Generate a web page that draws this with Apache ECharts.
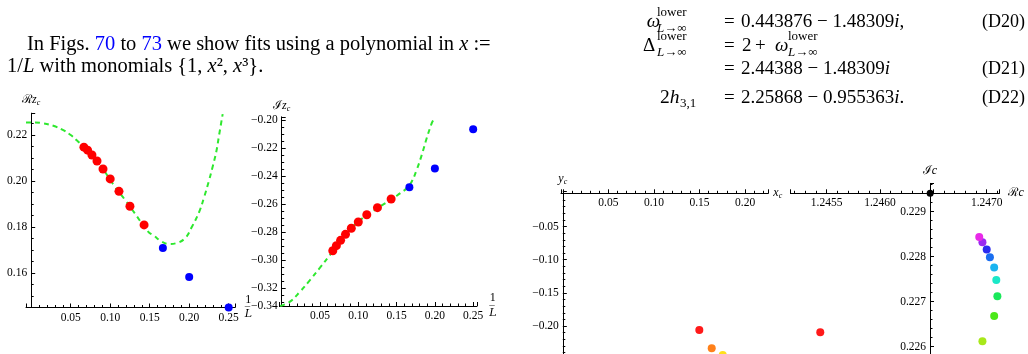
<!DOCTYPE html>
<html>
<head>
<meta charset="utf-8">
<script src="https://cdn.jsdelivr.net/npm/echarts@6/dist/echarts.min.js"></script>
<style>
  html, body { margin: 0; padding: 0; background: #fff; }
  #chart { width: 1028px; height: 354px; }
</style>
</head>
<body>
<div id="chart"></div>
<script>
// x = 1/L, red: L = 15..7 (fit), blue: L = 6, 5, 4
const xRed = [0.0667, 0.0714, 0.0769, 0.0833, 0.0909, 0.1, 0.1111, 0.125, 0.1429];
const xBlue = [0.1667, 0.2, 0.25];

// Re z_c and Im z_c
const reRed = [0.2147, 0.2134, 0.2113, 0.2087, 0.2052, 0.2009, 0.1955, 0.1890, 0.1809];
const reBlue = [0.1709, 0.1583, 0.1450];
const imRed = [-0.2932, -0.2896, -0.2858, -0.2815, -0.2772, -0.2727, -0.2675, -0.2625, -0.2563];
const imBlue = [-0.2480, -0.2345, -0.2066];

// dashed fit curves
const reFitX = [-0.0066, 0.005, 0.015, 0.028, 0.040, 0.050, 0.058, 0.066, 0.077, 0.087, 0.096, 0.106, 0.119, 0.131, 0.148, 0.155, 0.165, 0.174, 0.184, 0.195, 0.2035, 0.2128, 0.2191, 0.2247, 0.2297, 0.2343, 0.2377, 0.2424];
const reFitY = [0.2254, 0.2254, 0.2251, 0.2240, 0.2222, 0.2200, 0.2176, 0.2150, 0.2113, 0.2072, 0.2026, 0.1975, 0.1917, 0.1860, 0.1780, 0.1763, 0.1737, 0.1726, 0.1730, 0.1752, 0.1801, 0.1867, 0.1932, 0.1997, 0.2062, 0.2127, 0.2196, 0.2291];
const imFitX = [-0.002, 0.0108, 0.0239, 0.0369, 0.050, 0.0631, 0.0714, 0.0833, 0.0955, 0.1066, 0.1196, 0.1349, 0.1444, 0.1544, 0.1632, 0.1697, 0.1762, 0.1828, 0.1893, 0.1958, 0.1979];
const imFitY = [-0.3326, -0.3295, -0.3224, -0.3141, -0.3053, -0.2962, -0.2905, -0.2820, -0.2745, -0.2696, -0.2649, -0.2594, -0.2563, -0.2523, -0.2487, -0.2440, -0.2356, -0.2250, -0.2130, -0.2024, -0.2000];

// (x_c, y_c) plane, visible points
const xcVals = [0.1498, 0.1634, 0.1755];
const ycVals = [-0.2059, -0.2334, -0.2435];

// complex c plane
const reC = [1.24544, 1.24696, 1.24707, 1.24710, 1.24709, 1.24707, 1.24703, 1.24700, 1.24696, 1.24693];
const imC = [0.22632, 0.22612, 0.22668, 0.22712, 0.22748, 0.22776, 0.22799, 0.22816, 0.22832, 0.22844];
const cExact = [1.24647, 0.22941];

const xyPalette = ['#ff1a1a', '#ff801a', '#ffe01a'];
const cPalette = ['#ff1a1a', '#a8e81a', '#4ce81a', '#1ae85a', '#1ae8c8', '#1ab4f0', '#1a6ef0', '#2a2af0', '#9a2af0', '#e82ae8'];

const serif = '"Liberation Serif","DejaVu Serif",serif';
const imMin = -0.3326;

const pairs = (xs, ys) => xs.map((x, i) => [x, ys[i]]);
const fmt = (dec, hide) => v => {
  if ((hide || []).some(h => Math.abs(v - h) < 1e-9)) return '';
  return (v < 0 ? '\u2212' : '') + Math.abs(v).toFixed(dec);
};

function axis(extra) {
  const base = {
    type: 'value',
    scale: true,
    axisLine: { onZero: false, lineStyle: { color: '#000', width: 1 } },
    axisTick: { inside: true, length: 4, lineStyle: { color: '#000' } },
    minorTick: { show: true, splitNumber: 5, length: 2.5, lineStyle: { color: '#000' } },
    splitLine: { show: false },
    axisLabel: { color: '#000', fontFamily: serif, fontSize: 11.5, margin: 4, showMinLabel: false, showMaxLabel: false },
    nameTextStyle: {
      color: '#000', fontFamily: serif, fontSize: 12,
      rich: {
        s: { fontFamily: serif, fontSize: 12, lineHeight: 14 },
        v: { fontFamily: serif, fontStyle: 'italic', fontSize: 12, lineHeight: 14 },
        c: { fontFamily: serif, fontStyle: 'italic', fontSize: 8, verticalAlign: 'bottom', lineHeight: 9 },
        n: { fontFamily: serif, fontSize: 12, lineHeight: 14, align: 'center' },
        d: { fontFamily: '"DejaVu Serif"', fontStyle: 'italic', fontSize: 11, lineHeight: 16, align: 'center' }
      }
    }
  };
  const out = Object.assign({}, base, extra);
  ['axisLine', 'axisTick', 'minorTick', 'axisLabel', 'nameTextStyle'].forEach(k => {
    if (extra[k]) out[k] = Object.assign({}, base[k], extra[k]);
  });
  return out;
}

// 1 over L (bar drawn as overline on the L)
const fracName = '{n|1}\n{d|L\u0305}';

const chart = echarts.init(document.getElementById('chart'));

const option = {
  animation: false,
  backgroundColor: '#fff',
  grid: [
    { left: 26.0, top: 113.15, width: 209.0, height: 194.35, outerBoundsMode: 'none' },
    { left: 279.4, top: 116.8, width: 197.6, height: 189.2, outerBoundsMode: 'none' },
    { left: 561, top: 191.3, width: 207.3, height: 201.2, outerBoundsMode: 'none' },
    { left: 790.4, top: 183.35, width: 209.1, height: 208.35, outerBoundsMode: 'none' }
  ],
  xAxis: [
    axis({ gridIndex: 0, min: -0.0066, max: 0.258, splitNumber: 5,
      axisLabel: { formatter: fmt(2, [0]) },
      name: fracName, nameLocation: 'end', nameGap: 6 }),
    axis({ gridIndex: 1, min: -0.003, max: 0.255, splitNumber: 5,
      axisLabel: { formatter: fmt(2, [0]) },
      name: fracName, nameLocation: 'end', nameGap: 7 }),
    axis({ gridIndex: 2, min: -0.002, max: 0.2255, splitNumber: 5, position: 'top', offset: -2,
      axisTick: { inside: false },
      axisLabel: { inside: true, formatter: fmt(2, [0]) },
      name: '{v|x}{c|c}', nameLocation: 'end', nameGap: 5 }),
    axis({ gridIndex: 3, min: 1.24516, max: 1.24712, splitNumber: 4, position: 'top', offset: -9.95,
      axisTick: { inside: false },
      axisLabel: { inside: true, formatter: fmt(4, [1.2465]) },
      name: '{s|\u211B}{v|c}', nameLocation: 'end', nameGap: 5 })
  ],
  yAxis: [
    axis({ gridIndex: 0, min: 0.145, max: 0.2295, splitNumber: 4, position: 'left', offset: -5.2,
      minorTick: { splitNumber: 4 },
      axisLabel: { formatter: fmt(2) },
      name: '{s|\u211B}{v|z}{c|c}', nameLocation: 'end', nameGap: 6 }),
    axis({ gridIndex: 1, min: imMin, max: -0.1977, splitNumber: 7, position: 'left', offset: -2.3,
      minorTick: { splitNumber: 4 },
      axisLabel: { showMinLabel: true, formatter: v => Math.abs(v - imMin) < 1e-9 ? '\u22120.34' : fmt(2)(v) },
      name: '{s|\u2110}{v|z}{c|c}', nameLocation: 'end', nameGap: 4 }),
    axis({ gridIndex: 2, min: -0.30, max: 0.003, splitNumber: 6, position: 'left', offset: -1.8,
      axisLabel: { formatter: fmt(2, [0]) },
      name: '{v|y}{c|c}', nameLocation: 'end', nameGap: 5 }),
    axis({ gridIndex: 3, min: 0.2250, max: 0.22963, splitNumber: 5, position: 'left', offset: -139.6,
      axisLabel: { formatter: fmt(3) },
      name: '{s|\u2110}{v|c}', nameLocation: 'end', nameGap: 6 })
  ],
  series: [
    { type: 'line', xAxisIndex: 0, yAxisIndex: 0, data: pairs(reFitX, reFitY), smooth: 0.4,
      showSymbol: false, lineStyle: { color: '#2ee82e', width: 2, type: [5, 4] }, z: 1 },
    { type: 'scatter', xAxisIndex: 0, yAxisIndex: 0, data: pairs(xRed, reRed), symbolSize: 9,
      itemStyle: { color: '#ff0000', opacity: 1 }, z: 3 },
    { type: 'scatter', xAxisIndex: 0, yAxisIndex: 0, data: pairs(xBlue, reBlue), symbolSize: 8,
      itemStyle: { color: '#0000ff', opacity: 1 }, z: 3 },
    { type: 'line', xAxisIndex: 1, yAxisIndex: 1, data: pairs(imFitX, imFitY), smooth: 0.4,
      showSymbol: false, lineStyle: { color: '#2ee82e', width: 2, type: [5, 4] }, z: 1 },
    { type: 'scatter', xAxisIndex: 1, yAxisIndex: 1, data: pairs(xRed, imRed), symbolSize: 9,
      itemStyle: { color: '#ff0000', opacity: 1 }, z: 3 },
    { type: 'scatter', xAxisIndex: 1, yAxisIndex: 1, data: pairs(xBlue, imBlue), symbolSize: 8,
      itemStyle: { color: '#0000ff', opacity: 1 }, z: 3 },
    { type: 'scatter', xAxisIndex: 2, yAxisIndex: 2, data: pairs(xcVals, ycVals), symbolSize: 8,
      itemStyle: { opacity: 1, color: p => xyPalette[p.dataIndex] } },
    { type: 'scatter', xAxisIndex: 3, yAxisIndex: 3, data: pairs(reC, imC), symbolSize: 8,
      itemStyle: { opacity: 1, color: p => cPalette[p.dataIndex] } },
    { type: 'scatter', xAxisIndex: 3, yAxisIndex: 3, data: [cExact], symbolSize: 7,
      itemStyle: { color: '#000', opacity: 1 }, clip: false, z: 4 }
  ],
  graphic: [
    { type: 'text', x: 27, y: 45, style: {
        text: 'In Figs. {b|70} to {b|73} we show fits using a polynomial in {i|x} :=',
        fontFamily: serif, fontSize: 20.5, fill: '#000', verticalAlign: 'middle',
        rich: {
          b: { fontFamily: serif, fontSize: 20.5, fill: '#0000ff' },
          i: { fontFamily: serif, fontSize: 20.5, fontStyle: 'italic', fill: '#000' }
        } } },
    { type: 'text', x: 7, y: 67, style: {
        text: '1/{i|L} with monomials {1, {i|x}\u00B2, {i|x}\u00B3}.',
        fontFamily: serif, fontSize: 20.5, fill: '#000', verticalAlign: 'middle',
        rich: { i: { fontFamily: serif, fontSize: 20.5, fontStyle: 'italic', fill: '#000' } } } },

    // (D20)
    { type: 'text', x: 646.7, y: 22, style: { text: '\u03C9', fontFamily: serif, fontStyle: 'italic', fontSize: 19, fill: '#000', verticalAlign: 'middle' } },
    { type: 'text', x: 657, y: 13, style: { text: 'lower', fontFamily: serif, fontSize: 13, fill: '#000', verticalAlign: 'middle' } },
    { type: 'text', x: 657, y: 29, style: { text: '{i|L}\u2192\u221E', fontFamily: serif, fontSize: 13, fill: '#000', verticalAlign: 'middle',
        rich: { i: { fontFamily: serif, fontSize: 13, fontStyle: 'italic' } } } },
    { type: 'text', x: 724, y: 22, style: { text: '=', fontFamily: serif, fontSize: 19, fill: '#000', verticalAlign: 'middle' } },
    { type: 'text', x: 741, y: 22, style: { text: '0.443876 \u2212 1.48309{i|i},', fontFamily: serif, fontSize: 19, fill: '#000', verticalAlign: 'middle',
        rich: { i: { fontFamily: serif, fontSize: 19, fontStyle: 'italic' } } } },
    { type: 'text', x: 982, y: 22, style: { text: '(D20)', fontFamily: serif, fontSize: 18, fill: '#000', verticalAlign: 'middle' } },

    // Delta line
    { type: 'text', x: 643, y: 46, style: { text: '\u0394', fontFamily: serif, fontSize: 19, fill: '#000', verticalAlign: 'middle' } },
    { type: 'text', x: 657, y: 37, style: { text: 'lower', fontFamily: serif, fontSize: 13, fill: '#000', verticalAlign: 'middle' } },
    { type: 'text', x: 657, y: 53, style: { text: '{i|L}\u2192\u221E', fontFamily: serif, fontSize: 13, fill: '#000', verticalAlign: 'middle',
        rich: { i: { fontFamily: serif, fontSize: 13, fontStyle: 'italic' } } } },
    { type: 'text', x: 724, y: 46, style: { text: '=', fontFamily: serif, fontSize: 19, fill: '#000', verticalAlign: 'middle' } },
    { type: 'text', x: 742, y: 46, style: { text: '2', fontFamily: serif, fontSize: 19, fill: '#000', verticalAlign: 'middle' } },
    { type: 'text', x: 755, y: 46, style: { text: '+', fontFamily: serif, fontSize: 19, fill: '#000', verticalAlign: 'middle' } },
    { type: 'text', x: 775, y: 46, style: { text: '\u03C9', fontFamily: serif, fontStyle: 'italic', fontSize: 19, fill: '#000', verticalAlign: 'middle' } },
    { type: 'text', x: 788, y: 37, style: { text: 'lower', fontFamily: serif, fontSize: 13, fill: '#000', verticalAlign: 'middle' } },
    { type: 'text', x: 788, y: 53, style: { text: '{i|L}\u2192\u221E', fontFamily: serif, fontSize: 13, fill: '#000', verticalAlign: 'middle',
        rich: { i: { fontFamily: serif, fontSize: 13, fontStyle: 'italic' } } } },

    // (D21)
    { type: 'text', x: 724, y: 69, style: { text: '=', fontFamily: serif, fontSize: 19, fill: '#000', verticalAlign: 'middle' } },
    { type: 'text', x: 741, y: 69, style: { text: '2.44388 \u2212 1.48309{i|i}', fontFamily: serif, fontSize: 19, fill: '#000', verticalAlign: 'middle',
        rich: { i: { fontFamily: serif, fontSize: 19, fontStyle: 'italic' } } } },
    { type: 'text', x: 982, y: 69, style: { text: '(D21)', fontFamily: serif, fontSize: 18, fill: '#000', verticalAlign: 'middle' } },

    // (D22)
    { type: 'text', x: 660, y: 98, style: { text: '2{i|h}', fontFamily: serif, fontSize: 19.5, fill: '#000', verticalAlign: 'middle',
        rich: { i: { fontFamily: serif, fontSize: 19.5, fontStyle: 'italic' } } } },
    { type: 'text', x: 680, y: 104, style: { text: '3,1', fontFamily: serif, fontSize: 13, fill: '#000', verticalAlign: 'middle' } },
    { type: 'text', x: 724, y: 98, style: { text: '=', fontFamily: serif, fontSize: 19, fill: '#000', verticalAlign: 'middle' } },
    { type: 'text', x: 741, y: 98, style: { text: '2.25868 \u2212 0.955363{i|i}.', fontFamily: serif, fontSize: 19, fill: '#000', verticalAlign: 'middle',
        rich: { i: { fontFamily: serif, fontSize: 19, fontStyle: 'italic' } } } },
    { type: 'text', x: 982, y: 98, style: { text: '(D22)', fontFamily: serif, fontSize: 18, fill: '#000', verticalAlign: 'middle' } }
  ]
};

chart.setOption(option);
</script>
</body>
</html>
